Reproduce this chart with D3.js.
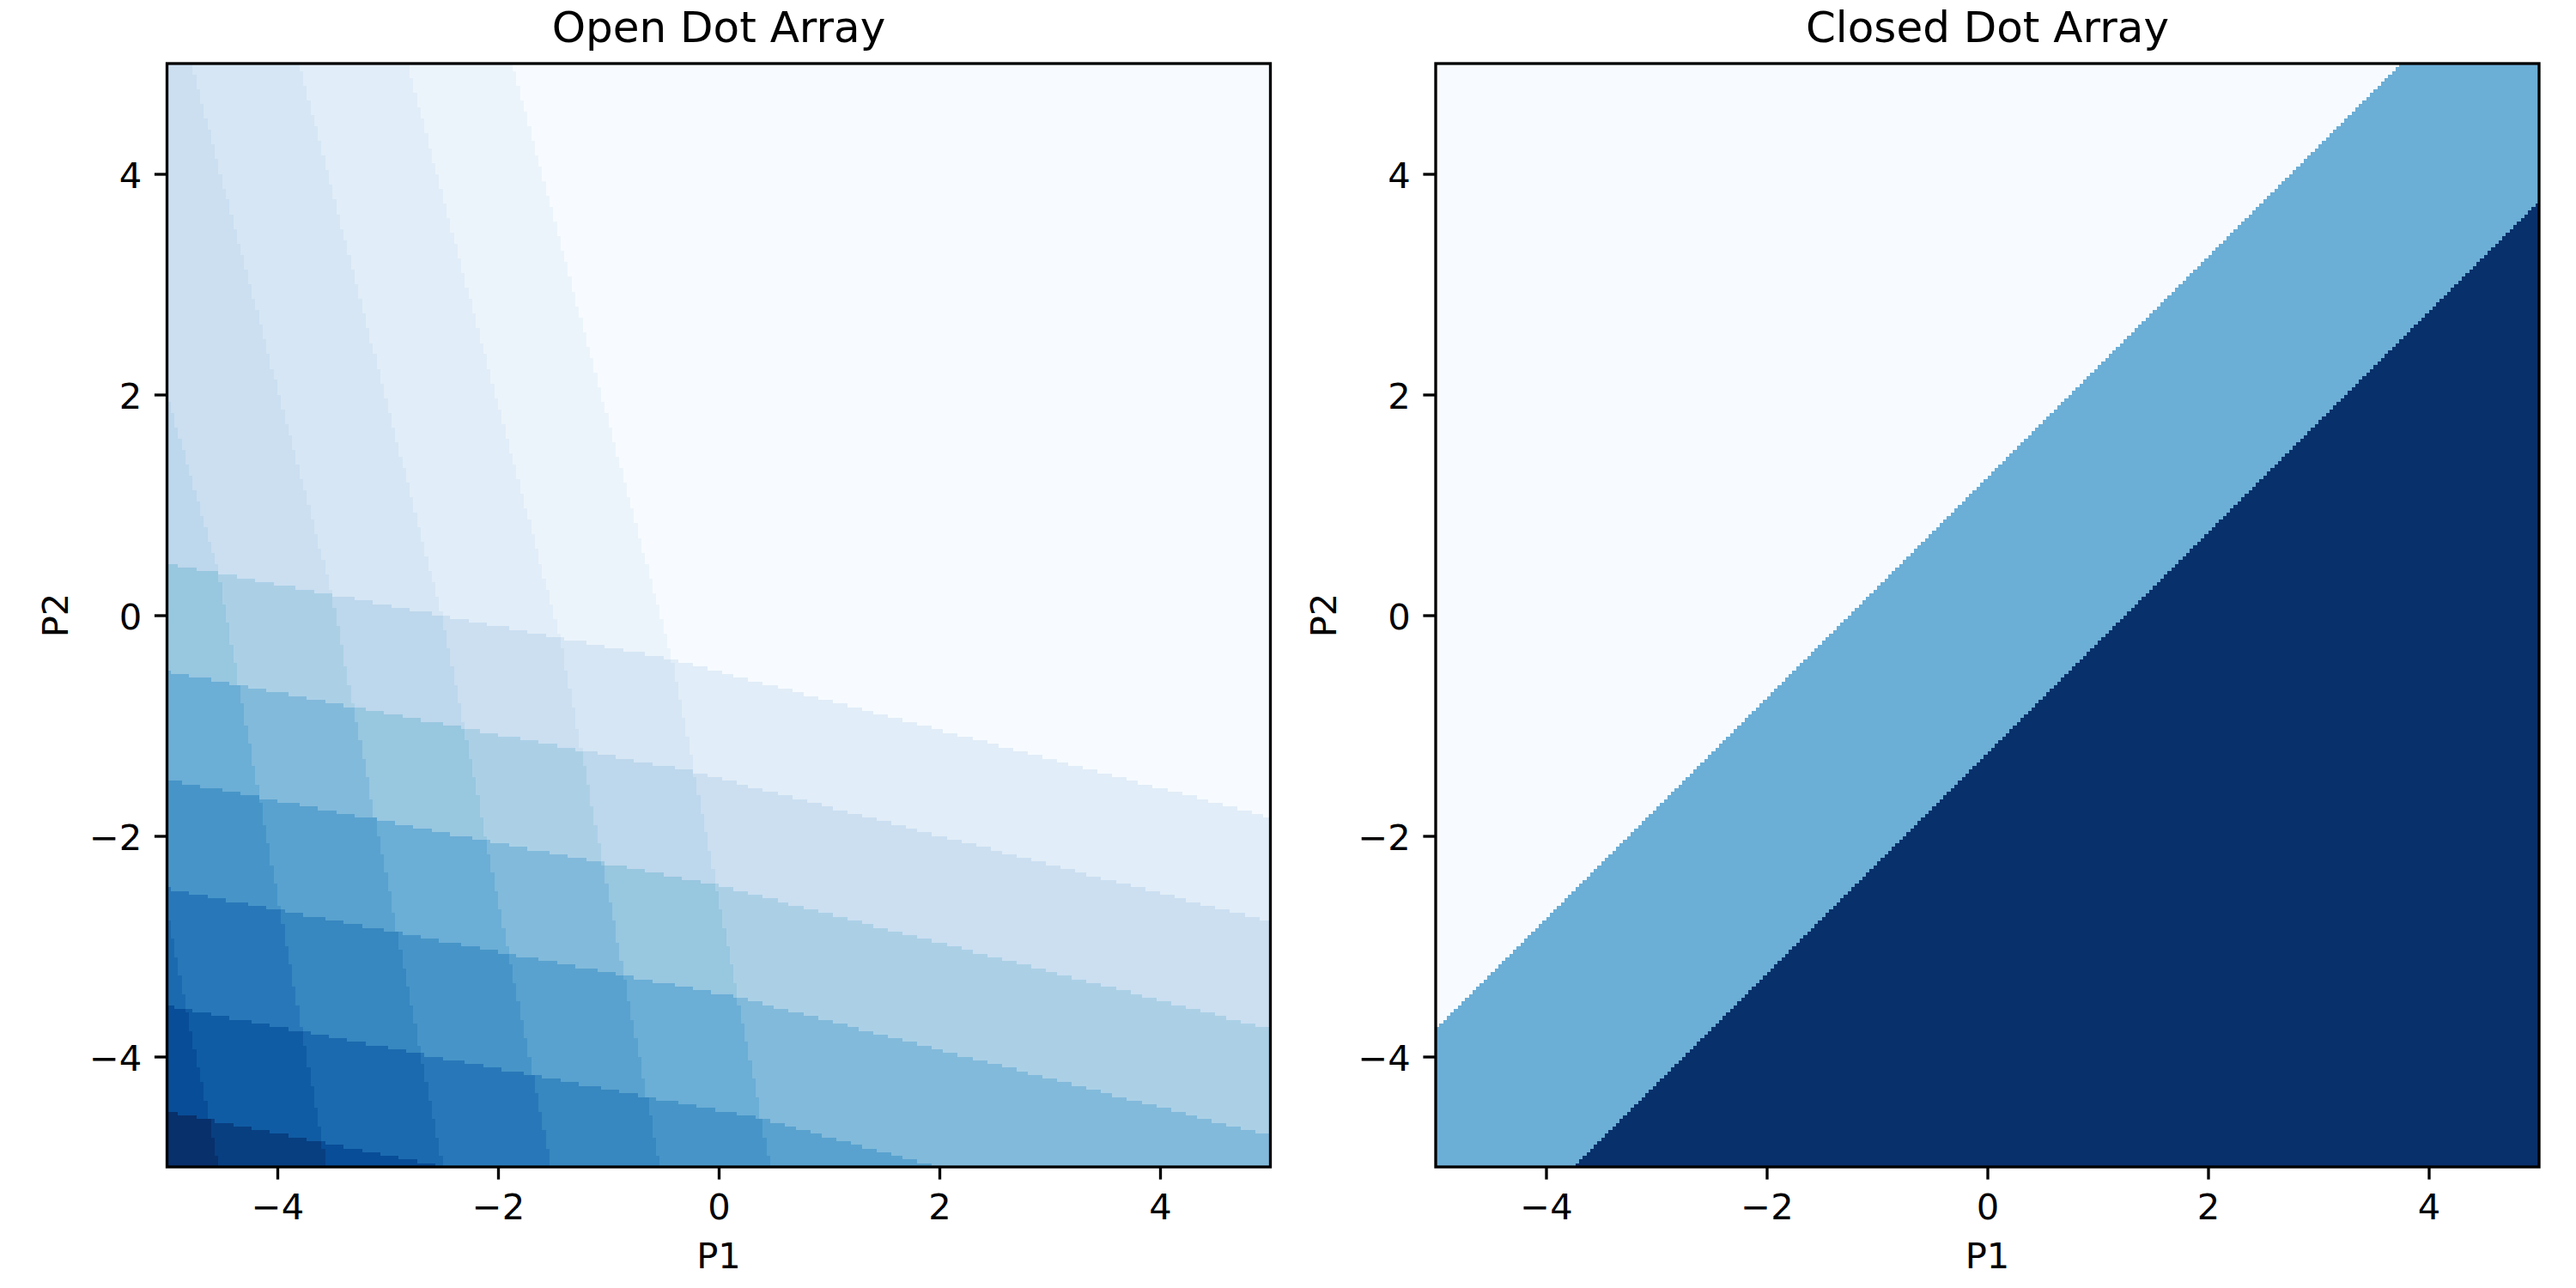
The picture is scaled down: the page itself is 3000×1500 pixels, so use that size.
<!DOCTYPE html>
<html>
<head>
<meta charset="utf-8">
<script src="https://cdn.jsdelivr.net/npm/d3@7"></script>
<style>
  html, body { margin: 0; padding: 0; background: #fff; }
  svg { display: block; font-family: "DejaVu Sans", sans-serif; }
</style>
</head>
<body>
<svg id="chart" width="3000" height="1500"></svg>
<script>
var p1Ticks = [-4, -2, 0, 2, 4];
var p2Ticks = [-4, -2, 0, 2, 4];
var extent = [-5, 5];
var gridSize = 300;

// open dot array: bent boundary lines, points as [P1, P2]
var openColBounds = [
    [[-1.87, 5], [-0.42, -0.40], [0.47, -5]],
    [[-2.82, 5], [-1.44, -0.19], [-0.53, -5]],
    [[-3.80, 5], [-2.51, 0.00], [-1.52, -5]],
    [[-4.78, 5], [-3.52, 0.25], [-2.50, -5]],
    [[-5, 2.00], [-4.54, 0.42], [-3.55, -5]],
    [[-5, -2.70], [-4.53, -5]]
];
var openRowBounds = [
    [[-5, 0.47], [-0.42, -0.40], [5, -1.83]],
    [[-5, -0.51], [-0.22, -1.42], [5, -2.78]],
    [[-5, -1.49], [-0.03, -2.44], [5, -3.75]],
    [[-5, -2.48], [0.17, -3.46], [5, -4.72]],
    [[-5, -3.54], [0.38, -4.56], [1.98, -5]],
    [[-5, -4.50], [-2.47, -5]]
];
var openSteps = [1, 2]; // level step per column, per row
var openMax = 18;

// closed dot array: thresholds on P1 - P2
var closedBounds = [-1.25, 1.25];
var closedMax = 2;

var blues = ["#f7fbff", "#deebf7", "#c6dbef", "#9ecae1", "#6baed6", "#4292c6", "#2171b5", "#08519c", "#08306b"];

var fs = 41.67, titleFs = 50, tickLen = 14.6, tickPad = 14.6, lw = 3.33;
var plotTop = 74, plotSize = 1285;

// each boundary becomes a piecewise linear function (extended past its ends)
var colFns = openColBounds.map(function (pts) {
    return d3.scaleLinear().domain(pts.map(function (p) { return p[1]; })).range(pts.map(function (p) { return p[0]; }));
});
var rowFns = openRowBounds.map(function (pts) {
    return d3.scaleLinear().domain(pts.map(function (p) { return p[0]; })).range(pts.map(function (p) { return p[1]; }));
});

function openValue(x, y) {
    var i = colFns.filter(function (f) { return x < f(y); }).length;
    var j = rowFns.filter(function (f) { return y < f(x); }).length;
    return i * openSteps[0] + j * openSteps[1];
}

function closedValue(x, y) {
    return closedBounds.filter(function (t) { return x - y > t; }).length;
}

// sample the grid row by row, merging equal neighbours into runs
function runs(valueFn) {
    var step = (extent[1] - extent[0]) / gridSize, out = [];
    for (var r = 0; r < gridSize; r++) {
        var y0 = extent[1] - r * step, y1 = y0 - step, yc = y0 - step / 2;
        var start = 0, cur = valueFn(extent[0] + step / 2, yc);
        for (var c = 1; c <= gridSize; c++) {
            var v = c < gridSize ? valueFn(extent[0] + (c + 0.5) * step, yc) : null;
            if (v !== cur) {
                out.push({x0: extent[0] + start * step, x1: extent[0] + c * step, y0: y0, y1: y1, v: cur});
                start = c;
                cur = v;
            }
        }
    }
    return out;
}

function minus(d) {
    return d < 0 ? "\u2212" + Math.abs(d) : String(d);
}

var panels = [
    {title: "Open Dot Array", left: 194.5, value: openValue, max: openMax},
    {title: "Closed Dot Array", left: 1672, value: closedValue, max: closedMax}
];

var svg = d3.select("#chart");

panels.forEach(function (p) {
    var x = d3.scaleLinear().domain(extent).range([p.left, p.left + plotSize]);
    var y = d3.scaleLinear().domain(extent).range([plotTop + plotSize, plotTop]);
    var color = d3.scaleLinear()
        .domain(d3.range(blues.length).map(function (k) { return k * p.max / (blues.length - 1); }))
        .range(blues);

    var g = svg.append("g");

    g.append("g")
        .attr("shape-rendering", "crispEdges")
        .selectAll("rect")
        .data(runs(p.value))
        .enter().append("rect")
        .attr("x", function (d) { return x(d.x0); })
        .attr("y", function (d) { return y(d.y0); })
        .attr("width", function (d) { return x(d.x1) - x(d.x0) + 0.3; })
        .attr("height", function (d) { return y(d.y1) - y(d.y0) + 0.3; })
        .attr("fill", function (d) { return color(d.v); });

    var xAxis = g.append("g")
        .attr("transform", "translate(0," + (plotTop + plotSize) + ")")
        .call(d3.axisBottom(x).tickValues(p1Ticks).tickSize(tickLen).tickPadding(tickPad).tickFormat(minus));
    var yAxis = g.append("g")
        .attr("transform", "translate(" + p.left + ",0)")
        .call(d3.axisLeft(y).tickValues(p2Ticks).tickSize(tickLen).tickPadding(tickPad).tickFormat(minus));

    [xAxis, yAxis].forEach(function (a) {
        a.select(".domain").remove();
        a.selectAll(".tick line").attr("stroke", "#000").attr("stroke-width", lw);
        a.selectAll(".tick text")
            .attr("fill", "#000")
            .attr("font-family", "DejaVu Sans")
            .attr("font-size", fs);
    });
    xAxis.selectAll(".tick text").attr("dy", "0.76em");
    yAxis.selectAll(".tick text").attr("dy", "0.38em");

    g.append("rect")
        .attr("x", p.left)
        .attr("y", plotTop)
        .attr("width", plotSize)
        .attr("height", plotSize)
        .attr("fill", "none")
        .attr("stroke", "#000")
        .attr("stroke-width", lw);

    g.append("text")
        .attr("x", p.left + plotSize / 2)
        .attr("y", plotTop - 25)
        .attr("text-anchor", "middle")
        .attr("font-size", titleFs)
        .text(p.title);

    g.append("text")
        .attr("x", p.left + plotSize / 2)
        .attr("y", plotTop + plotSize + 117.7)
        .attr("text-anchor", "middle")
        .attr("font-size", fs)
        .text("P1");

    g.append("text")
        .attr("transform", "translate(" + (p.left - 115.7) + "," + (plotTop + plotSize / 2) + ") rotate(-90)")
        .attr("text-anchor", "middle")
        .attr("font-size", fs)
        .text("P2");
});
</script>
</body>
</html>
